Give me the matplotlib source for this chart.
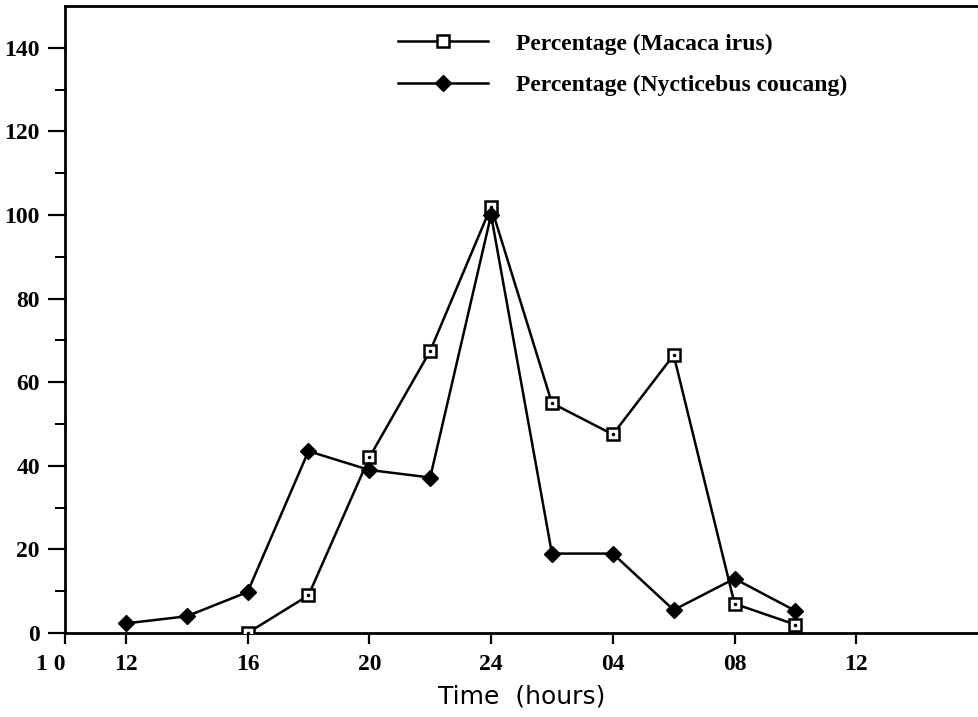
import numpy as np
import matplotlib.pyplot as plt
import matplotlib.transforms as mtransforms

# Hours after 10:00 on day one (24 = midnight, 28 = 04:00 next day ...)
hours_macaca = [16, 18, 20, 22, 24, 26, 28, 30, 32, 34]
pct_macaca = [0, 9, 42, 67.5, 102, 55, 47.5, 66.5, 7, 2]

hours_nycti = [12, 14, 16, 18, 20, 22, 24, 26, 28, 30, 32, 34]
pct_nycti = [2.3, 4, 9.8, 43.5, 39, 37.2, 100, 19, 19, 5.5, 13, 5.3]

xticks = [10, 12, 16, 20, 24, 28, 32, 36]
xticklabels = ['1 0', '12', '16', '20', '24', '04', '08', '12']
yticks = [0, 20, 40, 60, 80, 100, 120, 140]

fig = plt.figure(figsize=(9.79, 7.17), dpi=100)
ax = fig.add_axes([65/979, (717-633)/717, (978-65)/979, (633-6)/717])

ax.plot(hours_macaca, pct_macaca, color='black', lw=1.8, marker='s',
        markersize=9, markerfacecolor='white', markeredgecolor='black',
        markeredgewidth=1.8, label='Percentage (Macaca irus)', zorder=3)
ax.plot(hours_macaca, pct_macaca, ls='none', marker='.', markersize=3,
        color='black', zorder=4)
ax.plot(hours_nycti, pct_nycti, color='black', lw=1.8, marker='D',
        markersize=8, markerfacecolor='black', markeredgecolor='black',
        label='Percentage (Nycticebus coucang)', zorder=3)

ax.set_xlim(10, 40)
ax.set_ylim(0, 150)

ax.set_xticks(xticks)
ax.set_xticklabels(xticklabels, family='Liberation Serif', fontsize=17,
                   fontweight='bold')
ax.set_yticks(yticks)
ax.set_yticks(np.arange(10, 150, 20), minor=True)
ax.set_yticklabels([str(v) for v in yticks], family='Liberation Serif',
                   fontsize=17, fontweight='bold')

ax.tick_params(axis='y', which='major', direction='out', length=12,
               width=1.6, pad=6)
ax.tick_params(axis='y', which='minor', direction='out', length=7, width=1.4)
ax.tick_params(axis='x', which='major', direction='out', length=8,
               width=1.6, pad=7)

# the "1 0" label sits a bit left of its tick
lab0 = ax.get_xticklabels()[0]
lab0.set_transform(lab0.get_transform() +
                   mtransforms.ScaledTranslation(-0.14, 0, fig.dpi_scale_trans))

for s in ['left', 'bottom', 'top']:
    ax.spines[s].set_linewidth(2)
ax.spines['right'].set_color('#bbbbbb')
ax.spines['right'].set_linewidth(1)

ax.set_xlabel('Time  (hours)', family='DejaVu Sans', fontsize=18, labelpad=7)

leg = ax.legend(loc='upper left', bbox_to_anchor=(398/979, 1 - 33/717),
                bbox_transform=fig.transFigure, frameon=False,
                handlelength=3.8, handletextpad=1.2, labelspacing=0.85,
                borderpad=0, borderaxespad=0,
                prop={'family': 'Liberation Serif', 'size': 17,
                      'weight': 'bold'})

fig.savefig('out.png', dpi=100)
